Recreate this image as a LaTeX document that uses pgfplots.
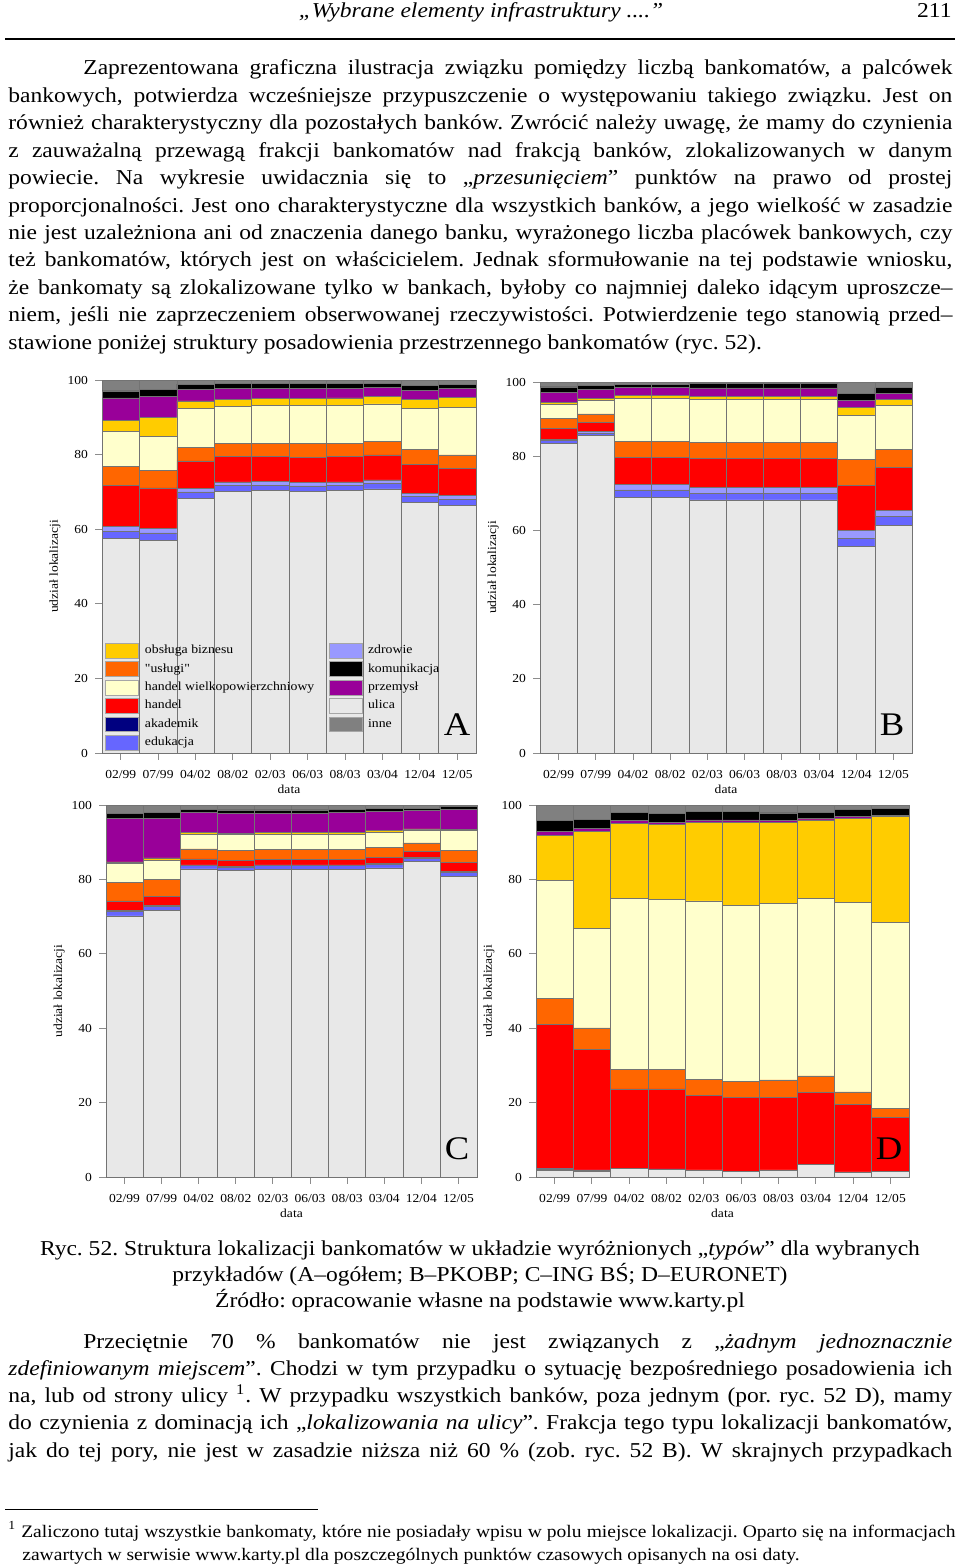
\documentclass[border=0pt]{standalone}
\usepackage{fontspec}
\setmainfont[FakeStretch=1.11]{Liberation Serif}
\newfontfamily\plainserif[FakeStretch=1.11]{Liberation Serif}
\usepackage{pgfplots}
\pgfplotsset{compat=1.18}
\usepackage{pgfplotstable}

\definecolor{cInn}{HTML}{808080}
\definecolor{cKom}{HTML}{000000}
\definecolor{cPrz}{HTML}{990099}
\definecolor{cObs}{HTML}{FFCC00}
\definecolor{cHw}{HTML}{FFFFCC}
\definecolor{cUsl}{HTML}{FF6600}
\definecolor{cHan}{HTML}{FF0000}
\definecolor{cZdr}{HTML}{9999FF}
\definecolor{cEdu}{HTML}{6666FF}
\definecolor{cAka}{HTML}{000080}
\definecolor{cUli}{HTML}{E8E8E8}

\newcommand\chartfont{\fontsize{6.1}{7}\selectfont}
\newcommand\legfont{\fontsize{6.2}{7}\selectfont}
\newcommand\ylabfont{\fontsize{6.1}{7}\selectfont}
\newcommand\bodyfont{\fontsize{10.6}{13.7}\selectfont}
\newcommand\footfont{\fontsize{8.8}{11.5}\selectfont}

\pgfplotstableread{
x uli edu aka zdr han usl hw obs prz kom inn
0 57.6 1.9 0 1.2 11.0 5.1 9.5 2.8 6.1 1.9 2.9
1 57.1 1.9 0 1.2 10.9 4.7 9.0 5.1 5.8 1.8 2.5
2 68.3 1.7 0 0.9 7.4 3.7 10.3 2.1 3.1 1.4 1.1
3 70.2 1.6 0 0.9 6.8 3.5 9.9 2.0 2.8 1.4 0.9
4 70.4 1.4 0 1.0 6.7 3.5 10.1 2.0 2.6 1.4 0.9
5 70.1 1.5 0 0.9 6.8 3.6 10.2 2.0 2.6 1.4 0.9
6 70.3 1.5 0 0.9 6.8 3.5 10.2 2.0 2.5 1.4 0.9
7 70.8 1.5 0 0.9 6.7 3.6 10.1 1.9 2.5 1.1 0.9
8 67.1 1.7 0 0.9 7.6 4.1 10.9 2.6 2.4 1.3 1.4
9 66.3 1.7 0 1.0 7.2 3.7 12.7 2.8 2.4 1.1 1.1
}\tA
\pgfplotstableread{
x uli edu aka zdr han usl hw obs prz kom inn
0 83.4 0.8 0 0.4 3.0 2.5 3.8 0.7 2.7 1.4 1.3
1 85.5 0.7 0 0.4 2.5 2.3 3.6 0.6 2.3 1.2 0.9
2 69.0 1.9 0 1.5 7.3 4.3 11.5 0.9 2.1 0.9 0.6
3 69.0 1.9 0 1.5 7.3 4.3 11.5 0.9 2.1 0.9 0.6
4 68.2 1.8 0 1.6 7.8 4.3 11.6 0.9 2.2 1.2 0.4
5 68.2 1.8 0 1.6 7.8 4.3 11.6 0.9 2.2 1.2 0.4
6 68.2 1.8 0 1.6 7.8 4.3 11.6 0.9 2.2 1.2 0.4
7 68.2 1.8 0 1.6 7.8 4.3 11.6 0.9 2.2 1.2 0.4
8 55.7 2.2 0 2.0 12.3 7.0 11.7 2.2 2.0 1.8 3.1
9 61.3 2.4 0 1.7 11.5 4.9 11.8 1.7 1.7 1.5 1.5
}\tB
\pgfplotstableread{
x uli edu aka zdr han usl hw obs prz kom inn
0 70.2 1.3 0 0.2 2.5 5.1 4.9 0.5 11.7 1.4 2.2
1 71.7 1.1 0 0.2 2.4 4.7 5.0 0.7 10.5 1.7 2.0
2 82.8 0.9 0 0.2 1.6 2.7 4.0 0.4 5.4 0.8 1.2
3 82.5 0.8 0 0.2 1.7 2.6 4.2 0.4 5.4 0.9 1.3
4 82.6 1.1 0 0.2 1.4 2.7 4.0 0.6 5.2 0.9 1.3
5 82.6 1.1 0 0.2 1.4 2.7 4.0 0.6 5.2 0.9 1.3
6 82.6 1.1 0 0.2 1.5 2.7 4.1 0.5 5.4 0.8 1.1
7 83.1 1.0 0 0.3 1.6 2.7 4.0 0.4 5.1 0.9 0.9
8 84.8 0.8 0 0.3 1.6 2.3 3.5 0.3 4.9 0.6 0.9
9 80.9 1.0 0 0.3 2.4 3.1 5.5 0.3 5.3 0.8 0.4
}\tC
\pgfplotstableread{
x uli edu aka zdr han usl hw obs prz kom inn
0 1.8 0.4 0 0.1 38.8 7.0 31.6 12.1 1.0 3.0 4.2
1 1.5 0.3 0 0.1 32.4 5.8 26.8 25.9 0.9 2.5 3.8
2 2.3 0 0 0 21.4 5.2 46.0 20.2 0.7 2.2 2.0
3 2.0 0.2 0 0 21.5 5.2 45.8 20.1 0.5 2.5 2.2
4 1.9 0 0 0 20.1 4.3 47.9 21.1 0.7 2.2 1.8
5 1.6 0 0 0 19.8 4.2 47.4 22.3 0.7 2.2 1.8
6 1.9 0 0 0 19.6 4.6 47.4 21.8 0.5 2.1 2.1
7 3.4 0 0 0 19.3 4.5 47.6 21.2 0.4 1.6 2.0
8 1.4 0 0 0 18.2 3.3 50.9 22.6 0.5 2.0 1.1
9 1.6 0 0 0 14.4 2.5 49.9 28.6 0.3 1.8 0.9
}\tD

\newcommand\bars[1]{%
\addplot[fill=cUli] table[x=x,y=uli]{#1};
\addplot[fill=cEdu] table[x=x,y=edu]{#1};
\addplot[fill=cAka] table[x=x,y=aka]{#1};
\addplot[fill=cZdr] table[x=x,y=zdr]{#1};
\addplot[fill=cHan] table[x=x,y=han]{#1};
\addplot[fill=cUsl] table[x=x,y=usl]{#1};
\addplot[fill=cHw] table[x=x,y=hw]{#1};
\addplot[fill=cObs] table[x=x,y=obs]{#1};
\addplot[fill=cPrz] table[x=x,y=prz]{#1};
\addplot[fill=cKom] table[x=x,y=kom]{#1};
\addplot[fill=cInn] table[x=x,y=inn]{#1};
}

\pgfplotsset{
  leg/.style={legend image code/.code={\draw[fill=#1,draw=black!35,line width=0.4pt] (0pt,-3.7pt) rectangle (16.5pt,3.7pt);}},
  chart/.style={
    scale only axis, ybar stacked, bar width=1,
    xmin=-0.5, xmax=9.5, ymin=0, ymax=100, enlargelimits=false,
    axis x line*=bottom, axis y line*=left,
    axis line style={black!45, line width=0.5pt},
    tick style={black!45, line width=0.5pt},
    tick align=outside, major tick length=3.3pt,
    ytick={0,20,40,60,80,100}, xtick={0,...,9},
    xticklabels={02/99,07/99,04/02,08/02,02/03,06/03,08/03,03/04,12/04,12/05},
    /pgf/number format/assume math mode=true,
    ticklabel style={font=\chartfont},
    yticklabel style={inner sep=0pt, xshift=-3.5pt, anchor=east},
    xticklabel style={inner sep=0pt, anchor=base, yshift=-9.2pt},
    xlabel={data}, ylabel={udział lokalizacji},
    xlabel style={font=\chartfont, at={(axis description cs:0.5,-0.098)}, anchor=center},
    ylabel style={font=\ylabfont, at={(axis description cs:-0.126,0.5)}, anchor=center},
    every axis plot/.append style={draw=black!55, line width=0.3pt},
    clip=false,
  }
}

\newcommand\jl[4]{\node[anchor=base west,inner sep=0pt] at (#1,#2) {\makebox[#3][s]{#4}};}
\newcommand\nl[3]{\node[anchor=base west,inner sep=0pt] at (#1,#2) {#3};}

\begin{document}
\frenchspacing
\begin{tikzpicture}
\path[fill=white,use as bounding box] (0pt,0pt) rectangle (480pt,-784pt);

\begin{scope}[x=0.5pt,y=-0.5pt]
% header
\node[anchor=base,inner sep=0pt,font=\itshape\fontsize{10.6}{12}\selectfont] at (481,18) {„Wybrane elementy infrastruktury ....”};
\node[anchor=base east,inner sep=0pt,font=\bodyfont] at (952,18) {211};
\draw[line width=0.7pt] (5,39) -- (955,39);

\begin{scope}[font=\bodyfont]
\jl{83}{75}{434.5pt}{Zaprezentowana graficzna ilustracja związku pomiędzy liczbą bankomatów, a palcówek}
\jl{8}{102.4}{472pt}{bankowych, potwierdza wcześniejsze przypuszczenie o występowaniu takiego związku. Jest on}
\jl{8}{129.8}{472pt}{również charakterystyczny dla pozostałych banków. Zwrócić należy uwagę, że mamy do czynienia}
\jl{8}{157.2}{472pt}{z zauważalną przewagą frakcji bankomatów nad frakcją banków, zlokalizowanych w danym}
\jl{8}{184.6}{472pt}{powiecie. Na wykresie uwidacznia się to „\textit{przesunięciem}” punktów na prawo od prostej}
\jl{8}{212}{472pt}{proporcjonalności. Jest ono charakterystyczne dla wszystkich banków, a jego wielkość w zasadzie}
\jl{8}{239.4}{472pt}{nie jest uzależniona ani od znaczenia danego banku, wyrażonego liczba placówek bankowych, czy}
\jl{8}{266.8}{472pt}{też bankomatów, których jest on właścicielem. Jednak sformułowanie na tej podstawie wniosku,}
\jl{8}{294.2}{472pt}{że bankomaty są zlokalizowane tylko w bankach, byłoby co najmniej daleko idącym uproszcze–}
\jl{8}{321.6}{472pt}{niem, jeśli nie zaprzeczeniem obserwowanej rzeczywistości. Potwierdzenie tego stanowią przed–}
\nl{8}{349}{stawione poniżej struktury posadowienia przestrzennego bankomatów (ryc. 52).}

\node[anchor=base,inner sep=0pt] at (480,1255) {Ryc. 52. Struktura lokalizacji bankomatów w układzie wyróżnionych „\textit{typów}” dla wybranych};
\node[anchor=base,inner sep=0pt] at (480,1281) {przykładów (A–ogółem; B–PKOBP; C–ING BŚ; D–EURONET)};
\node[anchor=base,inner sep=0pt] at (480,1307) {Źródło: opracowanie własne na podstawie www.karty.pl};

\jl{83}{1348}{434.5pt}{Przeciętnie 70 \% bankomatów nie jest związanych z „\textit{żadnym jednoznacznie}}
\jl{8}{1375}{472pt}{\textit{zdefiniowanym miejscem}”. Chodzi w tym przypadku o sytuację bezpośredniego posadowienia ich}
\jl{8}{1402}{472pt}{na, lub od strony ulicy \textsuperscript{1}. W przypadku wszystkich banków, poza jednym (por. ryc. 52 D), mamy}
\jl{8}{1429}{472pt}{do czynienia z dominacją ich „\textit{lokalizowania na ulicy}”. Frakcja tego typu lokalizacji bankomatów,}
\jl{8}{1457}{472pt}{jak do tej pory, nie jest w zasadzie niższa niż 60 \% (zob. ryc. 52 B). W skrajnych przypadkach}
\end{scope}

\draw[line width=0.5pt] (5,1509) -- (318,1509);
\begin{scope}[font=\footfont]
\jl{8}{1537}{473.5pt}{\textsuperscript{1} Zaliczono tutaj wszystkie bankomaty, które nie posiadały wpisu w polu miejsce lokalizacji. Oparto się na informacjach}
\nl{22}{1560}{zawartych w serwisie www.karty.pl dla poszczególnych punktów czasowych opisanych na osi daty.}
\end{scope}
\end{scope}

% Chart A
\begin{axis}[chart, at={(51pt,-376.5pt)}, anchor=south west, width=187pt, height=186.5pt,
  legend cell align=left, transpose legend, legend columns=6,
  legend style={at={(rel axis cs:0.008,0.296)}, anchor=north west, draw=none, fill=none,
    inner sep=0pt, row sep=1.4pt, font=\legfont, nodes={inner sep=0.6pt},
    /tikz/every even column/.append style={column sep=6.5pt},
    /tikz/every odd column/.append style={column sep=2.3pt}}]
\addlegendimage{leg=cObs}\addlegendentry{obsługa biznesu}
\addlegendimage{leg=cUsl}\addlegendentry{{\plainserif"usługi"}}
\addlegendimage{leg=cHw}\addlegendentry{handel wielkopowierzchniowy}
\addlegendimage{leg=cHan}\addlegendentry{handel}
\addlegendimage{leg=cAka}\addlegendentry{akademik}
\addlegendimage{leg=cEdu}\addlegendentry{edukacja}
\addlegendimage{leg=cZdr}\addlegendentry{zdrowie}
\addlegendimage{leg=cKom}\addlegendentry{komunikacja}
\addlegendimage{leg=cPrz}\addlegendentry{przemysł}
\addlegendimage{leg=cUli}\addlegendentry{ulica}
\addlegendimage{leg=cInn}\addlegendentry{inne}
\bars{\tA}
\end{axis}

% Chart B
\begin{axis}[chart, at={(270pt,-376.5pt)}, anchor=south west, width=186pt, height=185.5pt]
\bars{\tB}
\end{axis}

% Chart C
\begin{axis}[chart, at={(53pt,-588.5pt)}, anchor=south west, width=185.5pt, height=186pt]
\bars{\tC}
\end{axis}

% Chart D
\begin{axis}[chart, at={(268pt,-588.5pt)}, anchor=south west, width=186.5pt, height=186pt]
\bars{\tD}
\end{axis}

\begin{scope}[x=0.5pt,y=-0.5pt,every node/.style={font=\fontsize{16.5}{17}\selectfont}]
\node at (457,725) {A};
\node at (892,725) {B};
\node at (457,1149) {C};
\node at (889,1149) {D};
\end{scope}
\end{tikzpicture}
\end{document}
